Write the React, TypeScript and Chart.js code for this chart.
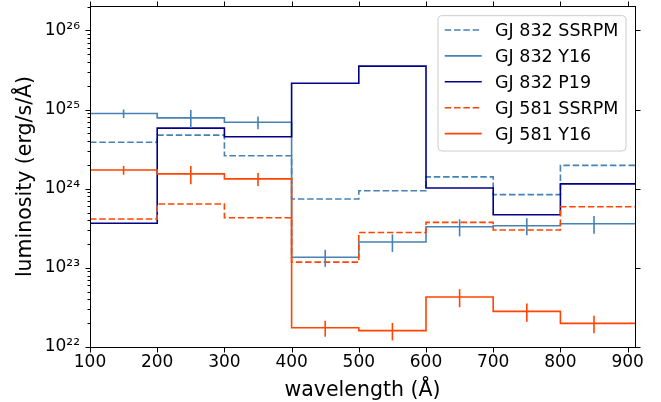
import React, { useEffect, useRef } from 'react';
import { Chart, registerables } from 'chart.js';

Chart.register(...registerables);

// ---- data ----
const wavelengthEdges = [100, 200, 300, 400, 500, 600, 700, 800, 911];
const binCenters = [150, 250, 350, 450, 550, 650, 750, 850];
const xTickValues = [100, 200, 300, 400, 500, 600, 700, 800, 900];
const yTickValues = [1e22, 1e23, 1e24, 1e25, 1e26];
const xMin = 100;
const xMax = 911;
const yMin = 1e22;
const yMax = 2.03e26;

const gj832SSRPM = [3.85e24, 4.75e24, 2.6e24, 7.4e23, 9.4e23, 1.41e24, 8.4e23, 1.97e24];
const gj832Y16 = [8.9e24, 7.85e24, 6.9e24, 1.36e23, 2.12e23, 3.3e23, 3.4e23, 3.6e23];
const gj832Y16Err = [1.1e24, 2.0e24, 1.25e24, 3.3e22, 5.3e22, 8.0e22, 8.2e22, 9.0e22];
const gj832P19 = [3.65e23, 5.82e24, 4.52e24, 2.15e25, 3.53e25, 1.02e24, 4.68e23, 1.15e24];
const gj581SSRPM = [4.13e23, 6.4e23, 4.3e23, 1.18e23, 2.8e23, 3.75e23, 3.0e23, 5.9e23];
const gj581Y16 = [1.72e24, 1.54e24, 1.33e24, 1.75e22, 1.61e22, 4.28e22, 2.82e22, 1.99e22];
const gj581Y16Err = [2.2e23, 4.0e23, 2.5e23, 4.0e21, 4.0e21, 1.1e22, 7.3e21, 5.0e21];

const seriesLabels = ['GJ 832 SSRPM', 'GJ 832 Y16', 'GJ 832 P19', 'GJ 581 SSRPM', 'GJ 581 Y16'];
const seriesValues = [gj832SSRPM, gj832Y16, gj832P19, gj581SSRPM, gj581Y16];
const seriesErrors = [null, gj832Y16Err, null, null, gj581Y16Err];
const seriesColors = ['#4682b4', '#4682b4', '#00008b', '#ff4500', '#ff4500'];
const seriesDashed = [true, false, false, true, false];

const FONT = "'DejaVu Sans', sans-serif";
const DASH = [6.5, 2.8];
const LW = 1.6;

const SUP: Record<string, string> = {
  '0': '\u2070', '1': '\u00b9', '2': '\u00b2', '3': '\u00b3', '4': '\u2074',
  '5': '\u2075', '6': '\u2076', '7': '\u2077', '8': '\u2078', '9': '\u2079', '-': '\u207b',
};

function stepPoints(values: number[]) {
  const pts = values.map((v, i) => ({ x: wavelengthEdges[i], y: v }));
  pts.push({ x: wavelengthEdges[values.length], y: values[values.length - 1] });
  return pts;
}

const decorPlugin = {
  id: 'mplDecor',
  afterDatasetsDraw(chart: any) {
    const ctx = chart.ctx as CanvasRenderingContext2D;
    const area = chart.chartArea;
    const xs = chart.scales.x;
    const ys = chart.scales.y;

    // error bars
    ctx.save();
    ctx.beginPath();
    ctx.rect(area.left, area.top, area.right - area.left, area.bottom - area.top);
    ctx.clip();
    seriesErrors.forEach((errs, si) => {
      if (!errs) return;
      const vals = seriesValues[si];
      ctx.strokeStyle = seriesColors[si];
      ctx.lineWidth = LW;
      ctx.setLineDash([]);
      errs.forEach((e, i) => {
        const px = xs.getPixelForValue(binCenters[i]);
        const y1 = ys.getPixelForValue(vals[i] + e);
        const y2 = ys.getPixelForValue(Math.max(vals[i] - e, yMin * 1e-3));
        ctx.beginPath();
        ctx.moveTo(px, y1);
        ctx.lineTo(px, y2);
        ctx.stroke();
      });
    });
    ctx.restore();

    // spines
    ctx.save();
    ctx.strokeStyle = '#000';
    ctx.lineWidth = 1;
    ctx.setLineDash([]);
    const L = Math.round(area.left) + 0.5;
    const R = Math.round(area.right) + 0.5;
    const T = Math.round(area.top) + 0.5;
    const B = Math.round(area.bottom) + 0.5;
    ctx.strokeRect(L, T, R - L, B - T);

    // ticks (outward)
    const MAJ = 5;
    const MIN = 3;
    ctx.beginPath();
    xTickValues.forEach((v) => {
      const px = Math.round(xs.getPixelForValue(v)) + 0.5;
      ctx.moveTo(px, B);
      ctx.lineTo(px, B + MAJ);
      ctx.moveTo(px, T);
      ctx.lineTo(px, T - MAJ);
    });
    yTickValues.forEach((v) => {
      const py = Math.round(ys.getPixelForValue(v)) + 0.5;
      ctx.moveTo(L, py);
      ctx.lineTo(L - MAJ, py);
      ctx.moveTo(R, py);
      ctx.lineTo(R + MAJ, py);
    });
    for (let d = 22; d <= 26; d++) {
      for (let k = 2; k <= 9; k++) {
        const v = k * Math.pow(10, d);
        if (v < yMin || v > yMax * 1.001) continue;
        const py = Math.round(ys.getPixelForValue(v)) + 0.5;
        ctx.moveTo(L, py);
        ctx.lineTo(L - MIN, py);
      }
    }
    ctx.stroke();
    ctx.restore();

    // legend
    ctx.save();
    const lfont = `17.5px ${FONT}`;
    ctx.font = lfont;
    let textW = 0;
    seriesLabels.forEach((l) => { textW = Math.max(textW, ctx.measureText(l).width); });
    const padL = 6.7, handle = 37, gap = 13.3, padR = 7.7;
    const boxW = padL + handle + gap + textW + padR;
    const boxH = 135.3;
    const lx = area.right - 9 - boxW;
    const ly = area.top + 9.7;
    const r = 4;
    ctx.beginPath();
    ctx.moveTo(lx + r, ly);
    ctx.lineTo(lx + boxW - r, ly);
    ctx.arcTo(lx + boxW, ly, lx + boxW, ly + r, r);
    ctx.lineTo(lx + boxW, ly + boxH - r);
    ctx.arcTo(lx + boxW, ly + boxH, lx + boxW - r, ly + boxH, r);
    ctx.lineTo(lx + r, ly + boxH);
    ctx.arcTo(lx, ly + boxH, lx, ly + boxH - r, r);
    ctx.lineTo(lx, ly + r);
    ctx.arcTo(lx, ly, lx + r, ly, r);
    ctx.closePath();
    ctx.fillStyle = 'rgba(255,255,255,0.8)';
    ctx.fill();
    ctx.strokeStyle = '#cccccc';
    ctx.lineWidth = 1;
    ctx.stroke();
    seriesLabels.forEach((label, i) => {
      const rowY = ly + 14.3 + i * 25.9;
      ctx.beginPath();
      ctx.strokeStyle = seriesColors[i];
      ctx.lineWidth = LW;
      ctx.setLineDash(seriesDashed[i] ? DASH : []);
      ctx.moveTo(lx + padL, rowY);
      ctx.lineTo(lx + padL + handle, rowY);
      ctx.stroke();
      ctx.setLineDash([]);
      ctx.fillStyle = '#000';
      ctx.font = lfont;
      ctx.textAlign = 'left';
      ctx.textBaseline = 'alphabetic';
      ctx.fillText(label, lx + padL + handle + gap, rowY + 6.3);
    });
    ctx.restore();
  },
};

export default function App() {
  const ref = useRef<HTMLCanvasElement>(null);
  useEffect(() => {
    const canvas = ref.current;
    if (!canvas) return;
    const chart = new Chart(canvas, {
      type: 'line',
      data: {
        datasets: seriesLabels.map((label, i) => ({
          label,
          data: stepPoints(seriesValues[i]),
          borderColor: seriesColors[i],
          backgroundColor: seriesColors[i],
          borderWidth: LW,
          borderDash: seriesDashed[i] ? DASH : [],
          stepped: 'before' as const,
          pointRadius: 0,
          fill: false,
          order: -i,
        })),
      },
      options: {
        responsive: false,
        devicePixelRatio: 1,
        animation: false,
        events: [],
        layout: { padding: { left: 0, right: 26, top: 6, bottom: 0 } },
        plugins: { legend: { display: false }, tooltip: { enabled: false } },
        scales: {
          x: {
            type: 'linear',
            min: xMin,
            max: xMax,
            grid: { display: false, drawTicks: false },
            border: { display: false },
            afterBuildTicks: (s: any) => { s.ticks = xTickValues.map((v) => ({ value: v })); },
            afterFit: (s: any) => {
              s.height = 55;
              s.paddingLeft = 0;
              s.paddingRight = 0;
              s.paddingTop = 0;
              s.paddingBottom = 0;
            },
            ticks: {
              color: '#000',
              font: { family: FONT, size: 17 },
              padding: 5,
              maxRotation: 0,
              autoSkip: false,
              callback: (v: any) => String(v),
            },
            title: {
              display: true,
              text: 'wavelength (\u00c5)',
              color: '#000',
              font: { family: FONT, size: 20.5, lineHeight: 1 },
              padding: { top: 0, bottom: 1 },
            },
          },
          y: {
            type: 'logarithmic',
            min: yMin,
            max: yMax,
            grid: { display: false, drawTicks: false },
            border: { display: false },
            afterBuildTicks: (s: any) => { s.ticks = yTickValues.map((v) => ({ value: v })); },
            afterFit: (s: any) => {
              s.width = 90;
              s.paddingLeft = 0;
              s.paddingRight = 0;
              s.paddingTop = 0;
              s.paddingBottom = 0;
            },
            ticks: {
              color: '#000',
              font: { family: FONT, size: 17 },
              padding: 10,
              autoSkip: false,
              callback: (v: any) => {
                const e = Math.round(Math.log10(Number(v)));
                return '10' + String(e).split('').map((c) => SUP[c] || c).join('');
              },
            },
            title: {
              display: true,
              text: 'luminosity (erg/s/\u00c5)',
              color: '#000',
              font: { family: FONT, size: 20.5, lineHeight: 1 },
              padding: { top: 15.5, bottom: 0 },
            },
          },
        },
      },
      plugins: [decorPlugin],
    });
    return () => chart.destroy();
  }, []);
  return (
    <div style={{ position: 'fixed', left: 0, top: 0, width: 661, height: 402, background: '#fff' }}>
      <canvas ref={ref} width={661} height={402} style={{ display: 'block' }} />
    </div>
  );
}
